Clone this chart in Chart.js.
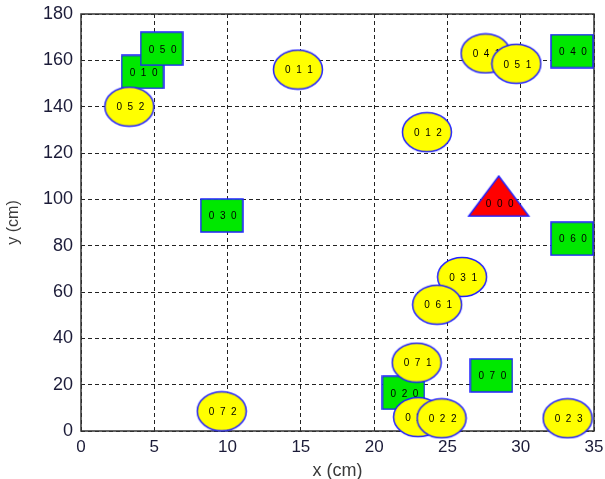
<!DOCTYPE html>
<html>
<head>
<meta charset="utf-8">
<script src="https://cdn.jsdelivr.net/npm/chart.js@4.4.1/dist/chart.umd.min.js"></script>
<style>
  html, body { margin: 0; padding: 0; background: #fff; }
  #wrap { width: 605px; height: 479px; }
</style>
</head>
<body>
<div id="wrap"><canvas id="nodeChart" width="605" height="479"></canvas></div>
<script>
// node list, in drawing order (first = bottom)
const nodeLabels = ["0 0 0", "0 1 0", "0 5 0", "0 5 2", "0 1 1", "0 4 1", "0 5 1", "0 4 0",
                    "0 1 2", "0 3 0", "0 6 0", "0 3 1", "0 6 1", "0 2 0", "0 7 1", "0 7 0",
                    "0 2 1", "0 2 2", "0 2 3", "0 7 2"];
const nodeX = [28.5, 4.2, 5.5, 3.3, 14.8, 27.6, 29.7, 33.5,
               23.6, 9.6, 33.5, 26.0, 24.3, 22.0, 22.9, 28.0,
               23.0, 24.6, 33.2, 9.6];
const nodeY = [98.5, 155, 165, 140, 156, 163, 158.5, 164,
               129, 93, 83, 66.5, 54.5, 16.5, 29.5, 24,
               6, 5.5, 5.5, 8.5];
// t = sink (triangle), r = cluster head (box), e = member (ellipse)
const nodeType = ["t", "r", "r", "e", "e", "e", "e", "r",
                  "e", "r", "r", "e", "e", "r", "e", "r",
                  "e", "e", "e", "e"];

const xTicks = [0, 5, 10, 15, 20, 25, 30, 35];
const yTicks = [0, 20, 40, 60, 80, 100, 120, 140, 160, 180];

// marker images (size first: setting width resets the context)
function makeMarker(type) {
    const c = document.createElement("canvas");
    if (type === "r") { c.width = 44; c.height = 35; }
    else if (type === "e") { c.width = 52; c.height = 42; }
    else { c.width = 64; c.height = 56; }
    const g = c.getContext("2d");
    g.strokeStyle = "#2020ff";
    g.lineWidth = 1.5;
    if (type === "r") {
        g.fillStyle = "#00e800";
        g.fillRect(1, 1, 42, 33);
        g.strokeRect(1, 1, 42, 33);
    } else if (type === "e") {
        g.fillStyle = "#ffff00";
        g.beginPath();
        g.ellipse(26, 21, 24.5, 19.5, 0, 0, Math.PI * 2);
        g.fill();
        g.stroke();
    } else {
        // triangle, centroid at canvas centre
        g.fillStyle = "#ff0000";
        g.beginPath();
        g.moveTo(32, 28 - 26.7);
        g.lineTo(62, 28 + 13.3);
        g.lineTo(2, 28 + 13.3);
        g.closePath();
        g.fill();
        g.stroke();
    }
    return c;
}
const markers = { r: makeMarker("r"), e: makeMarker("e"), t: makeMarker("t") };

const datasets = nodeLabels.map((lab, i) => ({
    label: lab,
    data: [{ x: nodeX[i], y: nodeY[i] }],
    pointStyle: markers[nodeType[i]],
    order: nodeLabels.length - i,
    clip: false
}));

// write node label on top of each marker right after it is drawn
const nodeText = {
    id: "nodeText",
    afterDatasetDraw(chart, args) {
        const meta = chart.getDatasetMeta(args.index);
        const pt = meta.data[0];
        const ctx = chart.ctx;
        ctx.save();
        ctx.font = "10px 'Liberation Sans', Arial, sans-serif";
        ctx.fillStyle = "#000";
        ctx.textAlign = "center";
        ctx.textBaseline = "middle";
        ctx.fillText(chart.data.datasets[args.index].label.split(" ").join("  "), pt.x + 1, pt.y + 1);
        ctx.restore();
    }
};

// solid box round the plot area
const plotBox = {
    id: "plotBox",
    beforeDatasetsDraw(chart) {
        const a = chart.chartArea;
        const ctx = chart.ctx;
        ctx.save();
        ctx.setLineDash([]);
        ctx.strokeStyle = "#333";
        ctx.lineWidth = 1.5;
        ctx.strokeRect(a.left, a.top, a.right - a.left, a.bottom - a.top);
        ctx.restore();
    }
};

const fam = "'Liberation Sans', Arial, sans-serif";

new Chart(document.getElementById("nodeChart"), {
    type: "scatter",
    data: { datasets: datasets },
    options: {
        responsive: false,
        animation: false,
        devicePixelRatio: 1,
        layout: { padding: { left: 0, right: 11, top: 14, bottom: 0 } },
        scales: {
            x: {
                type: "linear",
                min: 0,
                max: 35,
                afterBuildTicks: s => { s.ticks = xTicks.map(v => ({ value: v })); },
                afterFit: s => { s.height = 48; s.paddingLeft = 0; s.paddingRight = 0; },
                ticks: { font: { family: fam, size: 17 }, color: "#1b1b38", padding: 6, maxRotation: 0 },
                grid: { color: "#222", lineWidth: 1, drawTicks: false, z: -1 },
                border: { display: false, dash: [4, 3] },
                title: { display: true, text: "x (cm)", font: { family: fam, size: 18 }, color: "#3a3a3a", padding: { top: 0, bottom: -3 } }
            },
            y: {
                type: "linear",
                min: 0,
                max: 180,
                afterBuildTicks: s => { s.ticks = yTicks.map(v => ({ value: v })); },
                afterFit: s => { s.width = 81; s.paddingTop = 0; s.paddingBottom = 0; },
                ticks: { font: { family: fam, size: 18 }, color: "#1b1b38", padding: 8 },
                grid: { color: "#222", lineWidth: 1, drawTicks: false, z: -1 },
                border: { display: false, dash: [4, 3] },
                title: { display: true, text: "y (cm)", font: { family: fam, size: 16 }, color: "#3a3a3a", padding: { bottom: 4 } }
            }
        },
        plugins: {
            legend: { display: false },
            tooltip: { enabled: false }
        }
    },
    plugins: [plotBox, nodeText]
});
</script>
</body>
</html>
